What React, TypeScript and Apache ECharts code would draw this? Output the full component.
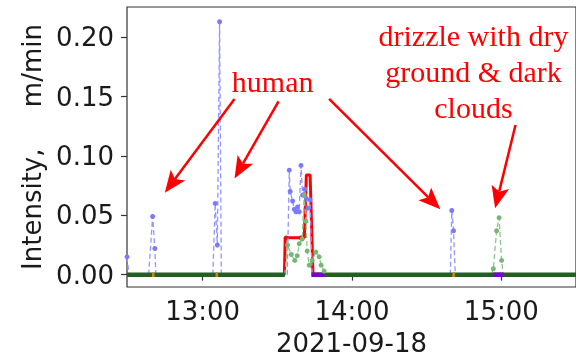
import React, { useEffect, useRef } from "react";
import * as echarts from "echarts";

const X_MIN = "12:29:36";
const X_MAX = "15:30:00";
const xTickTimes = ["13:00:00", "14:00:00", "15:00:00"];
const yTickValues = [0, 0.05, 0.1, 0.15, 0.2];
const Y_MIN = -0.0104;
const Y_MAX = 0.2254;
const xAxisTitle = "2021-09-18";
const yAxisTitle = "Intensity,\u00a0\u00a0\u00a0\u00a0\u00a0m/min";

const redTimes = ["12:29:36", "13:32:50", "13:33:10", "13:40:50", "13:41:40", "13:43:10", "13:44:20", "15:30:00"];
const redValues = [0, 0, 0.031, 0.031, 0.084, 0.084, 0, 0];

const blueTimes = [
  "12:29:36", "12:30:24", "12:30:30",
  "12:38:18", "12:39:54", "12:40:48", "12:41:12", "12:41:20",
  "13:04:06", "13:05:02", "13:05:54", "13:06:48", "13:07:30", "13:07:40",
  "13:34:00", "13:34:48", "13:35:10", "13:36:08", "13:36:48", "13:37:30", "13:38:08", "13:38:48",
  "13:39:30", "13:40:08", "13:41:00", "13:41:40", "13:42:20", "13:43:10", "13:44:00", "13:44:10",
  "14:39:30", "14:40:06", "14:40:48", "14:41:30",
];
const blueValues = [
  0.015, 0, null,
  0, 0.049, 0.022, 0, null,
  0, 0.06, 0.025, 0.213, 0, null,
  0, 0.088, 0.07, 0.062, 0.055, 0.053, 0.057, 0.053,
  0.092, 0.067, 0.072, 0.064, 0.056, 0.063, 0, null,
  0, 0.054, 0.037, 0,
];

const greenTimes = [
  "13:33:00", "13:34:06", "13:35:36", "13:37:00", "13:38:00", "13:38:48", "13:40:00", "13:40:48",
  "13:41:30", "13:42:00", "13:42:48", "13:44:00", "13:45:30", "13:46:48", "13:47:36", "13:48:48",
  "13:49:36", "13:50:00",
  "14:56:00", "14:56:48", "14:58:06", "14:59:06", "15:00:06", "15:00:48",
];
const greenValues = [
  0, 0.025, 0.017, 0.012, 0.016, 0.026, 0.03, 0.067,
  0.045, 0.02, 0.008, 0.012, 0.019, 0.015, 0.008, 0.003,
  0, null,
  0, 0.005, 0.037, 0.048, 0.012, 0,
];

const darkGreenTimes = ["12:29:36", "13:33:00", "13:33:10", "13:44:00", "15:30:00"];
const darkGreenValues = [0, 0, null, 0, 0];

const darkDotTimes = ["13:33:30", "13:39:30", "13:40:48", "13:43:40"];
const darkDotValues = [0.031, 0.031, 0.067, 0.008];

const purpleTimes = ["13:43:40", "13:49:00", "13:49:10", "14:56:48", "15:00:48"];
const purpleValues = [0, 0, null, 0, 0];

const orangeTimes = ["12:39:40", "12:40:40", "12:40:50", "13:05:10", "13:06:10", "13:06:20", "14:40:20", "14:41:20"];
const orangeValues = [0, 0, null, 0, 0, null, 0, 0];

const arrowStartTimes = ["13:12:48", "13:30:30", "13:50:48", "15:05:42"];
const arrowStartValues = [0.148, 0.146, 0.148, 0.126];
const arrowEndTimes = ["12:44:48", "13:12:48", "14:35:30", "14:57:30"];
const arrowEndValues = [0.069, 0.081, 0.055, 0.056];

const noteTexts = ["human", "drizzle with dry\nground & dark\nclouds"];
const noteTimes = ["13:28:08", "14:48:48"];
const noteValues = [0.163, 0.171];

function ts(hms: string): number {
  const [h, m, s] = hms.split(":").map(Number);
  return new Date(2021, 8, 18, h, m, s || 0).getTime();
}
function pairs(times: string[], values: (number | null)[]) {
  return times.map((t, i) => [ts(t), values[i] === null ? "-" : values[i]]);
}
function pad(n: number) {
  return n < 10 ? "0" + n : "" + n;
}

const AXIS_FONT = "DejaVu Sans";
const NOTE_FONT = '"Liberation Serif", "Times New Roman", serif';

export default function App() {
  const ref = useRef<HTMLDivElement>(null);
  useEffect(() => {
    document.body.style.margin = "0";
    if (!ref.current) return;
    const chart = echarts.init(ref.current, undefined, { renderer: "svg" });
    const symSize = (v: any) => (v && v[1] === 0 ? 0 : 5);
    const option: any = {
      animation: false,
      grid: {
        left: 127, right: -2, top: 7, bottom: 71,
        show: true, borderColor: "#333", borderWidth: 1.2,
      },
      xAxis: {
        type: "value",
        min: ts(X_MIN),
        max: ts(X_MAX),
        name: xAxisTitle,
        nameLocation: "middle",
        nameGap: 43,
        nameTextStyle: { fontFamily: AXIS_FONT, fontSize: 26, color: "#1a1a1a" },
        axisLine: { show: false },
        axisTick: {
          show: true, inside: false, length: 6,
          lineStyle: { color: "#333", width: 1.2 },
          customValues: xTickTimes.map(ts),
        },
        axisLabel: {
          customValues: xTickTimes.map(ts),
          formatter: (v: number) => {
            const d = new Date(v);
            return pad(d.getHours()) + ":" + pad(d.getMinutes());
          },
          fontFamily: AXIS_FONT, fontSize: 26, color: "#1a1a1a", margin: 11,
        },
        splitLine: { show: false },
      },
      yAxis: {
        type: "value",
        min: Y_MIN,
        max: Y_MAX,
        name: yAxisTitle,
        nameLocation: "middle",
        nameRotate: 90,
        nameGap: 75,
        nameTextStyle: { fontFamily: AXIS_FONT, fontSize: 26, color: "#1a1a1a" },
        axisLine: { show: false },
        axisTick: {
          show: true, inside: false, length: 6,
          lineStyle: { color: "#333", width: 1.2 },
          customValues: yTickValues,
        },
        axisLabel: {
          customValues: yTickValues,
          formatter: (v: number) => v.toFixed(2),
          fontFamily: AXIS_FONT, fontSize: 26, color: "#1a1a1a", margin: 13,
        },
        splitLine: { show: false },
      },
      series: [
        {
          type: "line", data: pairs(redTimes, redValues), showSymbol: false,
          lineStyle: { color: "#ff0000", width: 3 }, itemStyle: { color: "#ff0000" },
        },
        {
          type: "line", data: pairs(blueTimes, blueValues), symbol: "circle", symbolSize: symSize,
          lineStyle: { color: "#9494ff", width: 1.3, type: [5, 3] },
          itemStyle: { color: "#7a7aff" },
        },
        {
          type: "line", data: pairs(greenTimes, greenValues), symbol: "circle", symbolSize: symSize,
          lineStyle: { color: "#8cc68c", width: 1.3, type: [5, 3] },
          itemStyle: { color: "#74b874" },
        },
        {
          type: "line", data: pairs(darkGreenTimes, darkGreenValues), showSymbol: false,
          lineStyle: { color: "#235f23", width: 4.5 },
        },
        {
          type: "scatter", data: pairs(darkDotTimes, darkDotValues), symbolSize: 5,
          itemStyle: { color: "#2f6e2f" },
        },
        {
          type: "line", data: pairs(purpleTimes, purpleValues), showSymbol: false,
          lineStyle: { color: "#7b00d4", width: 4.5 },
        },
        {
          type: "line", data: pairs(orangeTimes, orangeValues), showSymbol: false,
          lineStyle: { color: "#d08a00", width: 4.5 },
        },
      ],
    };
    chart.setOption(option);

    const px = (t: string, v: number) => chart.convertToPixel({ gridIndex: 0 } as any, [ts(t), v]) as number[];
    const graphics: any[] = [];
    for (let i = 0; i < arrowStartTimes.length; i++) {
      const p0 = px(arrowStartTimes[i], arrowStartValues[i]);
      const p1 = px(arrowEndTimes[i], arrowEndValues[i]);
      const dx = p1[0] - p0[0];
      const dy = p1[1] - p0[1];
      const len = Math.sqrt(dx * dx + dy * dy);
      const ux = dx / len, uy = dy / len;
      const nx = -uy, ny = ux;
      const L = 22, W = 9, N = 5;
      const bx = p1[0] - ux * L, by = p1[1] - uy * L;
      const notch = [p1[0] - ux * (L - N), p1[1] - uy * (L - N)];
      graphics.push({
        type: "line", z: 100,
        shape: { x1: p0[0], y1: p0[1], x2: notch[0], y2: notch[1] },
        style: { stroke: "#ff0000", lineWidth: 2.5 },
      });
      graphics.push({
        type: "polygon", z: 100,
        shape: { points: [[p1[0], p1[1]], [bx + nx * W, by + ny * W], notch, [bx - nx * W, by - ny * W]] },
        style: { fill: "#ff0000" },
      });
    }
    for (let i = 0; i < noteTexts.length; i++) {
      const p = px(noteTimes[i], noteValues[i]);
      graphics.push({
        type: "text", z: 100, x: p[0], y: p[1],
        style: {
          text: noteTexts[i], fill: "#ff0000", fontSize: 30, fontFamily: NOTE_FONT,
          align: "center", verticalAlign: "middle", lineHeight: 36,
        },
      });
    }
    chart.setOption({ graphic: graphics });
    return () => chart.dispose();
  }, []);
  return <div ref={ref} style={{ position: "fixed", left: 0, top: 0, width: 576, height: 361 }} />;
}
